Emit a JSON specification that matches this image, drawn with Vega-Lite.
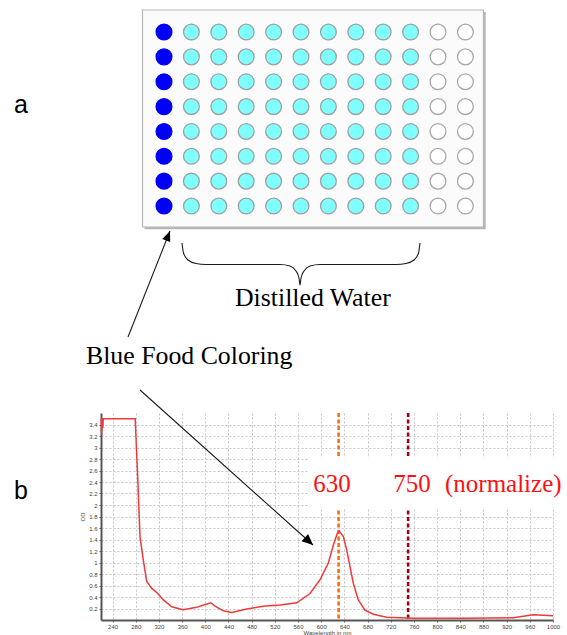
{
  "$schema": "https://vega.github.io/schema/vega-lite/v6.json",
  "width": 452,
  "height": 207,
  "autosize": {"type": "none"},
  "padding": {"left": 101, "top": 413, "right": 14, "bottom": 15},
  "background": "white",
  "config": {"view": {"stroke": null}},
  "datasets": {
    "spectrum": [
      {"wl": 220.5, "od": 3.5}, {"wl": 221, "od": 3.22}, {"wl": 221.6, "od": 3.5}, {"wl": 222.6, "od": 3.5},
      {"wl": 223.2, "od": 3.34}, {"wl": 223.8, "od": 3.5}, {"wl": 279, "od": 3.5}, {"wl": 283.3, "od": 2.49},
      {"wl": 287.3, "od": 1.45}, {"wl": 293, "od": 1.04}, {"wl": 298.9, "od": 0.67}, {"wl": 307.5, "od": 0.55},
      {"wl": 317.2, "od": 0.47}, {"wl": 327.6, "od": 0.35}, {"wl": 342, "od": 0.23}, {"wl": 362, "od": 0.18},
      {"wl": 385, "od": 0.22}, {"wl": 400, "od": 0.27}, {"wl": 409.3, "od": 0.3}, {"wl": 416.7, "od": 0.24},
      {"wl": 431, "od": 0.16}, {"wl": 445.5, "od": 0.13}, {"wl": 471.4, "od": 0.19}, {"wl": 500.1, "od": 0.24},
      {"wl": 528.9, "od": 0.26}, {"wl": 557.7, "od": 0.3}, {"wl": 580.7, "od": 0.46}, {"wl": 597.9, "od": 0.7},
      {"wl": 612.3, "od": 0.99}, {"wl": 620.9, "od": 1.3}, {"wl": 627.8, "od": 1.51}, {"wl": 631, "od": 1.55},
      {"wl": 638.2, "od": 1.45}, {"wl": 644, "od": 1.22}, {"wl": 649.7, "od": 0.93}, {"wl": 655.4, "od": 0.64},
      {"wl": 664, "od": 0.35}, {"wl": 675.6, "od": 0.17}, {"wl": 689.9, "od": 0.1}, {"wl": 713, "od": 0.047},
      {"wl": 759, "od": 0.03}, {"wl": 850, "od": 0.03}, {"wl": 931.5, "od": 0.04}, {"wl": 966, "od": 0.09},
      {"wl": 1000, "od": 0.075}
    ],
    "wells": [
      {"row": 1, "col": 1, "well": "dye"}, {"row": 1, "col": 2, "well": "water"}, {"row": 1, "col": 3, "well": "water"}, {"row": 1, "col": 4, "well": "water"}, {"row": 1, "col": 5, "well": "water"}, {"row": 1, "col": 6, "well": "water"}, {"row": 1, "col": 7, "well": "water"}, {"row": 1, "col": 8, "well": "water"}, {"row": 1, "col": 9, "well": "water"}, {"row": 1, "col": 10, "well": "water"}, {"row": 1, "col": 11, "well": "empty"}, {"row": 1, "col": 12, "well": "empty"},
      {"row": 2, "col": 1, "well": "dye"}, {"row": 2, "col": 2, "well": "water"}, {"row": 2, "col": 3, "well": "water"}, {"row": 2, "col": 4, "well": "water"}, {"row": 2, "col": 5, "well": "water"}, {"row": 2, "col": 6, "well": "water"}, {"row": 2, "col": 7, "well": "water"}, {"row": 2, "col": 8, "well": "water"}, {"row": 2, "col": 9, "well": "water"}, {"row": 2, "col": 10, "well": "water"}, {"row": 2, "col": 11, "well": "empty"}, {"row": 2, "col": 12, "well": "empty"},
      {"row": 3, "col": 1, "well": "dye"}, {"row": 3, "col": 2, "well": "water"}, {"row": 3, "col": 3, "well": "water"}, {"row": 3, "col": 4, "well": "water"}, {"row": 3, "col": 5, "well": "water"}, {"row": 3, "col": 6, "well": "water"}, {"row": 3, "col": 7, "well": "water"}, {"row": 3, "col": 8, "well": "water"}, {"row": 3, "col": 9, "well": "water"}, {"row": 3, "col": 10, "well": "water"}, {"row": 3, "col": 11, "well": "empty"}, {"row": 3, "col": 12, "well": "empty"},
      {"row": 4, "col": 1, "well": "dye"}, {"row": 4, "col": 2, "well": "water"}, {"row": 4, "col": 3, "well": "water"}, {"row": 4, "col": 4, "well": "water"}, {"row": 4, "col": 5, "well": "water"}, {"row": 4, "col": 6, "well": "water"}, {"row": 4, "col": 7, "well": "water"}, {"row": 4, "col": 8, "well": "water"}, {"row": 4, "col": 9, "well": "water"}, {"row": 4, "col": 10, "well": "water"}, {"row": 4, "col": 11, "well": "empty"}, {"row": 4, "col": 12, "well": "empty"},
      {"row": 5, "col": 1, "well": "dye"}, {"row": 5, "col": 2, "well": "water"}, {"row": 5, "col": 3, "well": "water"}, {"row": 5, "col": 4, "well": "water"}, {"row": 5, "col": 5, "well": "water"}, {"row": 5, "col": 6, "well": "water"}, {"row": 5, "col": 7, "well": "water"}, {"row": 5, "col": 8, "well": "water"}, {"row": 5, "col": 9, "well": "water"}, {"row": 5, "col": 10, "well": "water"}, {"row": 5, "col": 11, "well": "empty"}, {"row": 5, "col": 12, "well": "empty"},
      {"row": 6, "col": 1, "well": "dye"}, {"row": 6, "col": 2, "well": "water"}, {"row": 6, "col": 3, "well": "water"}, {"row": 6, "col": 4, "well": "water"}, {"row": 6, "col": 5, "well": "water"}, {"row": 6, "col": 6, "well": "water"}, {"row": 6, "col": 7, "well": "water"}, {"row": 6, "col": 8, "well": "water"}, {"row": 6, "col": 9, "well": "water"}, {"row": 6, "col": 10, "well": "water"}, {"row": 6, "col": 11, "well": "empty"}, {"row": 6, "col": 12, "well": "empty"},
      {"row": 7, "col": 1, "well": "dye"}, {"row": 7, "col": 2, "well": "water"}, {"row": 7, "col": 3, "well": "water"}, {"row": 7, "col": 4, "well": "water"}, {"row": 7, "col": 5, "well": "water"}, {"row": 7, "col": 6, "well": "water"}, {"row": 7, "col": 7, "well": "water"}, {"row": 7, "col": 8, "well": "water"}, {"row": 7, "col": 9, "well": "water"}, {"row": 7, "col": 10, "well": "water"}, {"row": 7, "col": 11, "well": "empty"}, {"row": 7, "col": 12, "well": "empty"},
      {"row": 8, "col": 1, "well": "dye"}, {"row": 8, "col": 2, "well": "water"}, {"row": 8, "col": 3, "well": "water"}, {"row": 8, "col": 4, "well": "water"}, {"row": 8, "col": 5, "well": "water"}, {"row": 8, "col": 6, "well": "water"}, {"row": 8, "col": 7, "well": "water"}, {"row": 8, "col": 8, "well": "water"}, {"row": 8, "col": 9, "well": "water"}, {"row": 8, "col": 10, "well": "water"}, {"row": 8, "col": 11, "well": "empty"}, {"row": 8, "col": 12, "well": "empty"}
    ],
    "plate": [{"c": 0.215, "c2": 12.66, "r": 0.115, "r2": 8.844}],
    "plateShadow": [{"c": 0.29, "c2": 12.74, "r": 0.19, "r2": 8.93}],
    "strokes": [
      {"id": "arrow to plate", "c": -0.314, "r": 13.269}, {"id": "arrow to plate", "c": 1.219, "r": 9.005},
      {"id": "arrow to peak", "c": 0.124, "r": 15.401}, {"id": "arrow to peak", "c": 6.438, "r": 21.636},
      {"id": "brace", "c": 1.657, "r": 9.488}, {"id": "brace", "c": 1.712, "r": 9.89}, {"id": "brace", "c": 1.876, "r": 10.172},
      {"id": "brace", "c": 2.168, "r": 10.312}, {"id": "brace", "c": 2.533, "r": 10.353}, {"id": "brace", "c": 5.234, "r": 10.353},
      {"id": "brace", "c": 5.599, "r": 10.413}, {"id": "brace", "c": 5.818, "r": 10.614}, {"id": "brace", "c": 5.927, "r": 10.895},
      {"id": "brace", "c": 5.964, "r": 11.177}, {"id": "brace", "c": 6.0, "r": 10.895}, {"id": "brace", "c": 6.109, "r": 10.614},
      {"id": "brace", "c": 6.328, "r": 10.413}, {"id": "brace", "c": 6.693, "r": 10.353}, {"id": "brace", "c": 9.467, "r": 10.353},
      {"id": "brace", "c": 9.832, "r": 10.312}, {"id": "brace", "c": 10.124, "r": 10.172}, {"id": "brace", "c": 10.288, "r": 9.89},
      {"id": "brace", "c": 10.343, "r": 9.488}
    ],
    "head1": [{"c": 1.219, "r": 9.005}],
    "head2": [{"c": 6.438, "r": 21.636}],
    "panelLabels": [{"label": "a", "c": -4.474, "r": 4.258}, {"label": "b", "c": -4.474, "r": 19.785}],
    "captions": [{"label": "Distilled Water", "c": 3.591, "r": 12.022}, {"label": "Blue Food Coloring", "c": -1.847, "r": 14.355}],
    "marker630": [{"wl": 630}],
    "marker750": [{"wl": 750}],
    "box": [{"wl": 579, "wl2": 1012, "od": 1.95, "od2": 2.82}],
    "notes": [{"label": "630", "wl": 586.4, "od": 2.231}, {"label": "750", "wl": 724.4, "od": 2.231}, {"label": "(normalize)", "wl": 813.6, "od": 2.231}]
  },
  "layer": [
    {
      "layer": [
        {
          "data": {"name": "marker630"},
          "mark": {"type": "rule", "color": "#FF6A10", "strokeWidth": 2.6, "strokeDash": [4, 2.5]},
          "encoding": {
            "x": {"field": "wl", "type": "quantitative", "scale": {"domain": [220, 1000], "nice": false, "zero": false},
              "axis": {"values": [240, 280, 320, 360, 400, 440, 480, 520, 560, 600, 640, 680, 720, 760, 800, 840, 880, 920, 960, 1000],
                "tickCount": 100, "format": "d", "title": "Wavelength in nm", "grid": true, "gridDash": [2, 2], "gridColor": "#c4c4c4", "gridWidth": 1,
                "domainColor": "#555", "domainWidth": 2, "tickColor": "#666", "tickSize": 2, "labelFontSize": 6, "labelColor": "#444",
                "labelFont": "Liberation Sans", "labelPadding": 1, "labelOverlap": false, "labelFlush": false,
                "titleFont": "Liberation Sans", "titleFontSize": 6, "titleFontWeight": "normal", "titleColor": "#444", "titlePadding": 0}}
          }
        },
        {
          "data": {"name": "marker750"},
          "mark": {"type": "rule", "color": "#A00010", "strokeWidth": 2.6, "strokeDash": [4, 2.5]},
          "encoding": {
            "x": {"field": "wl", "type": "quantitative", "scale": {"domain": [220, 1000], "nice": false, "zero": false}}
          }
        },
        {
          "data": {"name": "box"},
          "mark": {"type": "rect", "color": "white"},
          "encoding": {
            "x": {"field": "wl", "type": "quantitative", "scale": {"domain": [220, 1000], "nice": false, "zero": false}},
            "x2": {"field": "wl2"},
            "y": {"field": "od", "type": "quantitative", "scale": {"domain": [0, 3.6], "nice": false, "zero": false},
              "axis": {"values": [0.2, 0.4, 0.6, 0.8, 1, 1.2, 1.4, 1.6, 1.8, 2, 2.2, 2.4, 2.6, 2.8, 3, 3.2, 3.4],
                "tickCount": 100, "format": ".1~f", "title": "OD", "grid": true, "gridDash": [2, 2], "gridColor": "#c4c4c4", "gridWidth": 1,
                "domainColor": "#555", "domainWidth": 2, "tickColor": "#666", "tickSize": 2, "labelFontSize": 6, "labelColor": "#444",
                "labelFont": "Liberation Sans", "labelPadding": 2, "labelOverlap": false, "labelFlush": false,
                "titleFont": "Liberation Sans", "titleFontSize": 6, "titleFontWeight": "normal", "titleColor": "#444", "titlePadding": 3}},
            "y2": {"field": "od2"}
          }
        },
        {
          "data": {"name": "spectrum"},
          "mark": {"type": "line", "color": "#F03A3A", "strokeWidth": 1.5, "clip": false},
          "encoding": {
            "x": {"field": "wl", "type": "quantitative", "scale": {"domain": [220, 1000], "nice": false, "zero": false}},
            "y": {"field": "od", "type": "quantitative", "scale": {"domain": [0, 3.6], "nice": false, "zero": false}}
          }
        },
        {
          "data": {"name": "notes"},
          "mark": {"type": "text", "align": "left", "baseline": "alphabetic", "font": "Liberation Serif", "fontSize": 25, "color": "#FF1010"},
          "encoding": {
            "x": {"field": "wl", "type": "quantitative", "scale": {"domain": [220, 1000], "nice": false, "zero": false}},
            "y": {"field": "od", "type": "quantitative", "scale": {"domain": [0, 3.6], "nice": false, "zero": false}},
            "text": {"field": "label"}
          }
        }
      ]
    },
    {
      "layer": [
        {
          "data": {"name": "plateShadow"},
          "mark": {"type": "rect", "color": "#B4B4B4"},
          "encoding": {
            "x": {"field": "c", "type": "quantitative", "scale": {"domain": [-1.299, 15.197], "nice": false, "zero": false}, "axis": null},
            "x2": {"field": "c2"},
            "y": {"field": "r", "type": "quantitative", "scale": {"domain": [16.326, 24.653], "nice": false, "zero": false, "reverse": true}, "axis": null},
            "y2": {"field": "r2"}
          }
        },
        {
          "data": {"name": "plate"},
          "mark": {"type": "rect", "fill": "#FBFBFB", "stroke": "#B8B8B8", "strokeWidth": 1.2},
          "encoding": {
            "x": {"field": "c", "type": "quantitative", "scale": {"domain": [-1.299, 15.197], "nice": false, "zero": false}, "axis": null},
            "x2": {"field": "c2"},
            "y": {"field": "r", "type": "quantitative", "scale": {"domain": [16.326, 24.653], "nice": false, "zero": false, "reverse": true}, "axis": null},
            "y2": {"field": "r2"}
          }
        },
        {
          "data": {"name": "wells"},
          "mark": {"type": "point", "shape": "circle", "filled": true, "size": 250, "strokeWidth": 1.3, "opacity": 1, "fillOpacity": 1, "strokeOpacity": 1},
          "encoding": {
            "x": {"field": "col", "type": "quantitative", "scale": {"domain": [-1.299, 15.197], "nice": false, "zero": false}, "axis": null},
            "y": {"field": "row", "type": "quantitative", "scale": {"domain": [16.326, 24.653], "nice": false, "zero": false, "reverse": true}, "axis": null},
            "fill": {"field": "well", "type": "nominal", "scale": {"domain": ["dye", "water", "empty"], "range": ["#0000F8", "#80FFFF", "#FFFFFF"]}, "legend": null},
            "stroke": {"field": "well", "type": "nominal", "scale": {"domain": ["dye", "water", "empty"], "range": ["#0000F8", "#A0A0A0", "#A8A8A8"]}, "legend": null}
          }
        },
        {
          "data": {"name": "strokes"},
          "mark": {"type": "line", "interpolate": "monotone", "color": "#1A1A1A", "strokeWidth": 1.1},
          "encoding": {
            "x": {"field": "c", "type": "quantitative", "scale": {"domain": [-1.299, 15.197], "nice": false, "zero": false}, "axis": null},
            "y": {"field": "r", "type": "quantitative", "scale": {"domain": [16.326, 24.653], "nice": false, "zero": false, "reverse": true}, "axis": null},
            "detail": {"field": "id", "type": "nominal"}
          }
        },
        {
          "data": {"name": "head1"},
          "mark": {"type": "point", "shape": "M0,0L-0.42,1L0.42,1Z", "filled": true, "color": "#000", "size": 420, "angle": 21.6, "opacity": 1},
          "encoding": {
            "x": {"field": "c", "type": "quantitative", "scale": {"domain": [-1.299, 15.197], "nice": false, "zero": false}, "axis": null},
            "y": {"field": "r", "type": "quantitative", "scale": {"domain": [16.326, 24.653], "nice": false, "zero": false, "reverse": true}, "axis": null}
          }
        },
        {
          "data": {"name": "head2"},
          "mark": {"type": "point", "shape": "M0,0L-0.45,1L0.45,1Z", "filled": true, "color": "#000", "size": 480, "angle": 131.9, "opacity": 1},
          "encoding": {
            "x": {"field": "c", "type": "quantitative", "scale": {"domain": [-1.299, 15.197], "nice": false, "zero": false}, "axis": null},
            "y": {"field": "r", "type": "quantitative", "scale": {"domain": [16.326, 24.653], "nice": false, "zero": false, "reverse": true}, "axis": null}
          }
        },
        {
          "data": {"name": "panelLabels"},
          "mark": {"type": "text", "align": "left", "baseline": "alphabetic", "font": "Liberation Sans", "fontSize": 25, "color": "#000"},
          "encoding": {
            "x": {"field": "c", "type": "quantitative", "scale": {"domain": [-1.299, 15.197], "nice": false, "zero": false}, "axis": null},
            "y": {"field": "r", "type": "quantitative", "scale": {"domain": [16.326, 24.653], "nice": false, "zero": false, "reverse": true}, "axis": null},
            "text": {"field": "label"}
          }
        },
        {
          "data": {"name": "captions"},
          "mark": {"type": "text", "align": "left", "baseline": "alphabetic", "font": "Liberation Serif", "fontSize": 25.8, "color": "#000"},
          "encoding": {
            "x": {"field": "c", "type": "quantitative", "scale": {"domain": [-1.299, 15.197], "nice": false, "zero": false}, "axis": null},
            "y": {"field": "r", "type": "quantitative", "scale": {"domain": [16.326, 24.653], "nice": false, "zero": false, "reverse": true}, "axis": null},
            "text": {"field": "label"}
          }
        }
      ]
    }
  ],
  "resolve": {"scale": {"x": "independent", "y": "independent"}}
}
